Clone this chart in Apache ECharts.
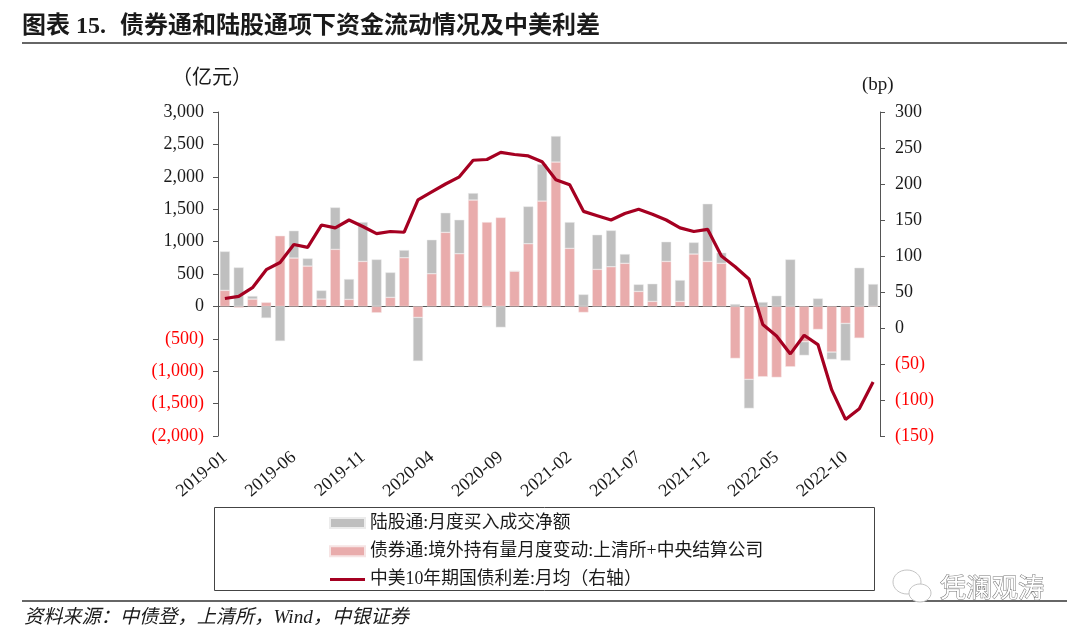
<!DOCTYPE html>
<html>
<head>
<meta charset="utf-8">
<style>
  html, body { margin: 0; padding: 0; background: #fff; }
  #chart { width: 1080px; height: 637px; }
</style>
<script src="https://cdn.jsdelivr.net/npm/echarts@6/dist/echarts.min.js"></script>
</head>
<body>
<div id="chart"></div>
<script>
  var months = [
    '2019-01','2019-02','2019-03','2019-04','2019-05','2019-06','2019-07','2019-08','2019-09','2019-10','2019-11','2019-12',
    '2020-01','2020-02','2020-03','2020-04','2020-05','2020-06','2020-07','2020-08','2020-09','2020-10','2020-11','2020-12',
    '2021-01','2021-02','2021-03','2021-04','2021-05','2021-06','2021-07','2021-08','2021-09','2021-10','2021-11','2021-12',
    '2022-01','2022-02','2022-03','2022-04','2022-05','2022-06','2022-07','2022-08','2022-09','2022-10','2022-11','2022-12'
  ];
  var stockConnect = [
    602, 602, 47, -180, -535, 422, 119, 134, 648, 314, 607, 725,
    386, 118, -674, 525, 303, 524, 108, -15, -324, 0, 576, 571,
    402, 406, 185, 535, 561, 144, 109, 273, 304, 329, 180, 890,
    164, 36, -448, 67, 165, 725, -211, 123, -113, -576, 597, 345
  ];
  var bondConnect = [
    247, -20, 113, 62, 1090, 746, 622, 113, 880, 108, 694, -98,
    139, 751, -170, 504, 1142, 813, 1641, 1301, 1373, 545, 967, 1625,
    2227, 895, -93, 571, 612, 664, 231, 77, 694, 77, 808, 694,
    664, -802, -1126, -1085, -1095, -931, -545, -355, -705, -262, -489, 0
  ];
  var spread = [
    41, 44, 56, 81, 91, 116, 112, 143, 139, 150, 141, 131,
    134, 133, 178, 189, 200, 210, 233, 234, 244, 241, 239, 231,
    206, 199, 162, 156, 150, 159, 165, 158, 150, 139, 134, 137,
    100, 85, 68, 5, -11, -36, -10, -23, -86, -127, -112, -75
  ];

  var FONT = '"Liberation Serif", "Noto Sans CJK SC", serif';
  var BLACK = '#1a1a1a';
  var LINE_ICON = 'path://M0 0L0 0M0 3.5H35V6.5H0ZM35 10L35 10';

  function fmtNum(v) {
    var s = Math.abs(v).toString().replace(/\B(?=(\d{3})+$)/g, ',');
    return v < 0 ? '(' + s + ')' : s;
  }
  function negRed(v) {
    return v < 0 ? '#ff0000' : BLACK;
  }

  function text(x, y, str, size, extra) {
    var style = { x: x, y: y, text: str, font: size + 'px ' + FONT, fill: BLACK, textVerticalAlign: 'middle' };
    if (extra) Object.keys(extra).forEach(function (k) { style[k] = extra[k]; });
    return { type: 'text', z: 10, style: style };
  }
  function rule(y) {
    return { type: 'line', shape: { x1: 22, y1: y, x2: 1067, y2: y }, style: { stroke: '#333', lineWidth: 1.5 } };
  }
  function bubble(cx, cy, rx, ry) {
    return { type: 'ellipse', z: 9, shape: { cx: cx, cy: cy, rx: rx, ry: ry }, style: { fill: '#fff', stroke: '#c4c4c4', lineWidth: 1 } };
  }

  var chart = echarts.init(document.getElementById('chart'));
  chart.setOption({
    animation: false,
    backgroundColor: '#fff',
    textStyle: { fontFamily: FONT },
    grid: { left: 218, right: 200, top: 112, height: 324 },
    legend: {
      left: 324, top: 509, orient: 'vertical', itemWidth: 35, itemHeight: 10, itemGap: 10.5,
      textStyle: { fontSize: 17.8, color: BLACK, fontFamily: FONT },
      data: [
        { name: '陆股通:月度买入成交净额', icon: 'rect' },
        { name: '债券通:境外持有量月度变动:上清所+中央结算公司', icon: 'rect' },
        { name: '中美10年期国债利差:月均（右轴）', icon: LINE_ICON }
      ]
    },
    xAxis: [
      {
        type: 'category', data: months, position: 'bottom',
        axisLine: { show: false, onZero: false }, axisTick: { show: false },
        axisLabel: { interval: 4, rotate: 40, fontSize: 18, color: BLACK, margin: 19, fontFamily: FONT }
      },
      {
        // zero line only
        type: 'category', data: months, position: 'bottom',
        axisLine: { onZero: true, onZeroAxisIndex: 0, lineStyle: { color: '#555', width: 1 } },
        axisTick: { show: false }, axisLabel: { show: false }
      }
    ],
    yAxis: [
      {
        type: 'value', min: -2000, max: 3000, interval: 500, splitLine: { show: false },
        axisLine: { show: true, onZero: false, lineStyle: { color: '#555' } },
        axisTick: { show: true, length: 5, lineStyle: { color: '#555' } },
        axisLabel: { fontSize: 18, margin: 14, padding: [3, 0, 0, 0], formatter: fmtNum, color: negRed, fontFamily: FONT }
      },
      {
        type: 'value', min: -150, max: 300, interval: 50, position: 'right', splitLine: { show: false },
        axisLine: { show: true, onZero: false, lineStyle: { color: '#555' } },
        axisTick: { show: true, length: 5, lineStyle: { color: '#555' } },
        axisLabel: { fontSize: 18, margin: 15, formatter: fmtNum, color: negRed, fontFamily: FONT }
      }
    ],
    series: [
      {
        name: '债券通:境外持有量月度变动:上清所+中央结算公司', type: 'bar', stack: 'flow', data: bondConnect, barWidth: 10,
        itemStyle: { color: '#E9ACAC', borderColor: '#f6e4e4', borderWidth: 0.5 }
      },
      {
        name: '陆股通:月度买入成交净额', type: 'bar', stack: 'flow', data: stockConnect, barWidth: 10,
        itemStyle: { color: '#BFBFBF', borderColor: '#ececec', borderWidth: 0.5 }
      },
      {
        name: '中美10年期国债利差:月均（右轴）', type: 'line', yAxisIndex: 1, data: spread, z: 5,
        showSymbol: false, symbol: 'none', lineStyle: { color: '#A50021', width: 3.2 }, itemStyle: { color: '#A50021' }
      }
    ],
    graphic: [
      text(22, 27, '图表 15.', 24, { font: 'bold 24px ' + FONT }),
      text(120, 27, '债券通和陆股通项下资金流动情况及中美利差', 24, { font: 'bold 24px ' + FONT }),
      rule(43),
      text(172, 79, '（亿元）', 20),
      text(862, 85, '(bp)', 19),
      { type: 'rect', shape: { x: 214.5, y: 507.5, width: 660, height: 83 }, style: { fill: 'none', stroke: '#444', lineWidth: 1 } },
      rule(601),
      text(24, 618, '资料来源：中债登，上清所，Wind，中银证券', 19.2, { font: 'italic 19.2px ' + FONT }),
      bubble(907, 582, 14, 12),
      bubble(920, 593, 11, 9),
      text(940, 590, '凭澜观涛', 26, { fill: '#fff', stroke: '#777', lineWidth: 1 })
    ]
  });
</script>
</body>
</html>
